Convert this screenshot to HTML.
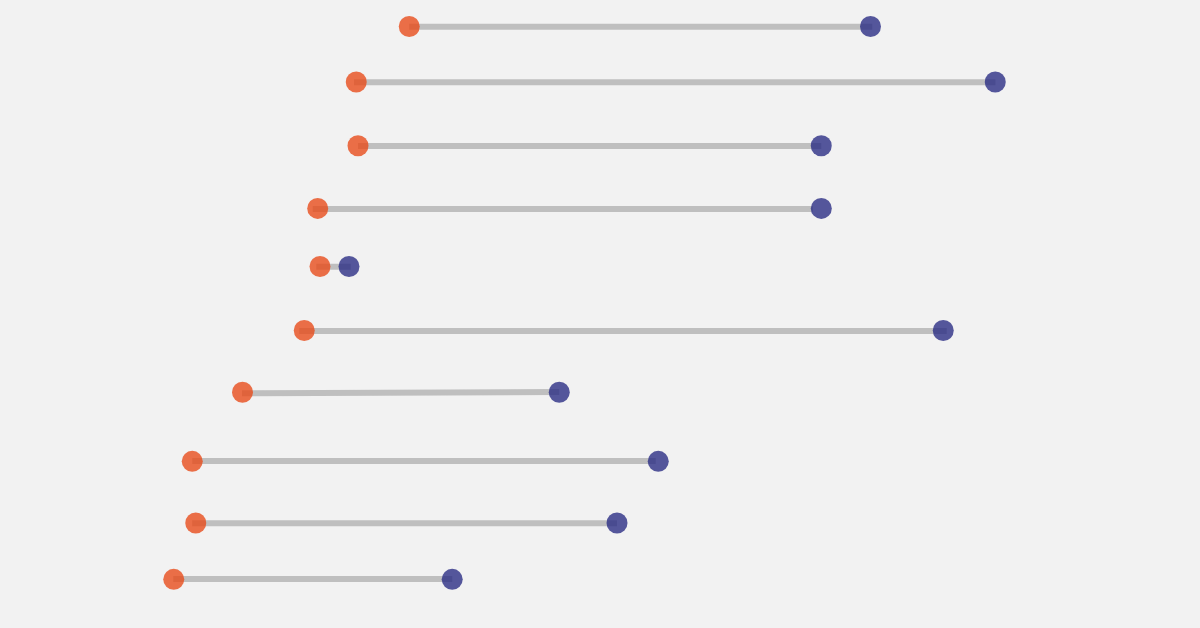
<!DOCTYPE html>
<html lang="en"><head><meta charset="utf-8"><title>Dumbbell chart</title>
<style>
html,body{margin:0;padding:0;background:#f2f2f2;}
body{width:1200px;height:628px;overflow:hidden;font-family:"Liberation Sans",sans-serif;}
svg{display:block;}
.l{stroke:#bfbfbf;stroke-width:6;stroke-linecap:butt;fill:none;}
.o{fill:#e74c1b;fill-opacity:.8;}
.b{fill:#2c2e84;fill-opacity:.8;}
</style></head><body>
<svg width="1200" height="628" viewBox="0 0 1200 628" role="img" aria-label="Dumbbell chart">
<rect width="1200" height="628" fill="#f2f2f2"/>
<g>
<line class="l" x1="409.2" y1="26.8" x2="872.2" y2="26.8"/>
<line class="l" x1="354.0" y1="82.3" x2="995.4" y2="82.3"/>
<line class="l" x1="358.0" y1="146.0" x2="821.25" y2="146.0"/>
<line class="l" x1="312.75" y1="208.9" x2="813.0" y2="208.9"/>
<line class="l" x1="316.25" y1="266.8" x2="350.75" y2="266.8"/>
<line class="l" x1="299.25" y1="330.9" x2="946.75" y2="330.9"/>
<line class="l" x1="242.0" y1="393.2" x2="559.25" y2="392.0"/>
<line class="l" x1="192.25" y1="461.0" x2="655.8" y2="461.0"/>
<line class="l" x1="192.2" y1="523.3" x2="617.0" y2="523.3"/>
<line class="l" x1="173.25" y1="579.0" x2="452.2" y2="579.0"/>
</g><g>
<circle class="o" cx="409.25" cy="26.5" r="10.5"/><circle class="b" cx="870.5" cy="26.5" r="10.5"/>
<circle class="o" cx="356.25" cy="82.0" r="10.5"/><circle class="b" cx="995.25" cy="82.0" r="10.5"/>
<circle class="o" cx="358.0" cy="145.75" r="10.5"/><circle class="b" cx="821.25" cy="145.75" r="10.5"/>
<circle class="o" cx="317.7" cy="208.4" r="10.5"/><circle class="b" cx="821.3" cy="208.4" r="10.5"/>
<circle class="o" cx="320.0" cy="266.5" r="10.5"/><circle class="b" cx="349.0" cy="266.5" r="10.5"/>
<circle class="o" cx="304.25" cy="330.5" r="10.5"/><circle class="b" cx="943.25" cy="330.5" r="10.5"/>
<circle class="o" cx="242.5" cy="392.25" r="10.5"/><circle class="b" cx="559.25" cy="392.25" r="10.5"/>
<circle class="o" cx="192.25" cy="461.3" r="10.5"/><circle class="b" cx="658.25" cy="461.3" r="10.5"/>
<circle class="o" cx="195.75" cy="523.0" r="10.5"/><circle class="b" cx="617.0" cy="523.0" r="10.5"/>
<circle class="o" cx="173.75" cy="579.3" r="10.5"/><circle class="b" cx="452.2" cy="579.3" r="10.5"/>
</g></svg></body></html>
